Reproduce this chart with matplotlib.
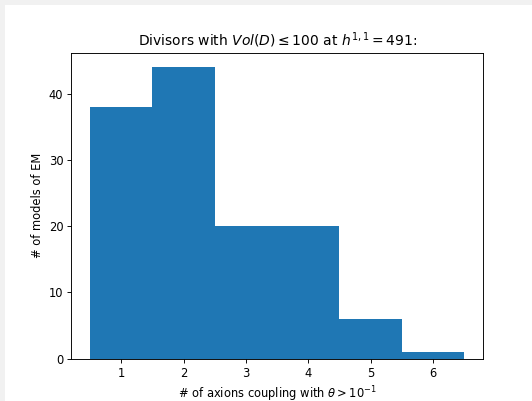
import matplotlib
matplotlib.use("Agg")
import matplotlib.pyplot as plt
from matplotlib.patches import Rectangle

categories = [1, 2, 3, 4, 5, 6]
counts = [38, 44, 20, 20, 6, 1]

W, H = 532, 401
DPI = 83
fig = plt.figure(figsize=(W / DPI, H / DPI), dpi=DPI, facecolor="#f1f1f1")
# white figure area (offset by 5 px from top-left)
fig.patches.append(Rectangle((5 / W, 0), 1, 1 - 5 / H, transform=fig.transFigure,
                             facecolor="white", edgecolor="none", zorder=-10))

left, right = 71.4, 482.9
top, bottom = 52.7, 358.7
ax = fig.add_axes([left / W, 1 - bottom / H, (right - left) / W, (bottom - top) / H])

ax.bar(categories, counts, width=1.0, color="#1f77b4")
ax.set_title(r"Divisors with $Vol(D) \leq 100$ at $h^{1,1} = 491$:")
ax.set_xlabel(r"# of axions coupling with $\theta > 10^{-1}$")
ax.set_ylabel("# of models of EM")
ax.set_yticks([0, 10, 20, 30, 40])

fig.savefig("out.png", dpi=DPI, facecolor=fig.get_facecolor())
